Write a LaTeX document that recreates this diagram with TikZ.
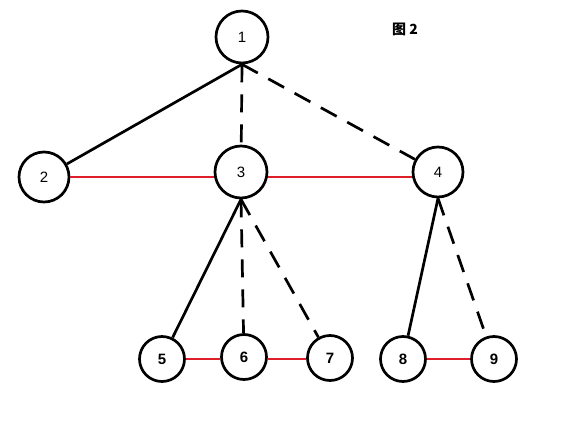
\documentclass[tikz,border=0pt]{standalone}
\usepackage{fontspec}
\setmainfont{Liberation Sans}
\newfontfamily\cjk{Noto Sans CJK SC}
\definecolor{linkred}{RGB}{222,30,40}
\begin{document}
\begin{tikzpicture}[x=1pt,y=-1pt,
    vertex/.style={draw,circle,line width=2.7pt,inner sep=0pt},
    big/.style={vertex,minimum size=52pt,font=\fontsize{15}{15}\selectfont},
    small/.style={vertex,minimum size=45pt,font=\bfseries\fontsize{15}{15}\selectfont},
    tree/.style={line width=2.7pt},
    lazy/.style={tree,dash pattern=on 18pt off 12pt},
    link/.style={line width=2.7pt,linkred}]
  \useasboundingbox (0,0) rectangle (586,428);
  \node[big] (n1) at (242,37) {1};
  \node[big,minimum size=50pt] (n2) at (44,177) {2};
  \node[big] (n3) at (241,172) {3};
  \node[big,minimum size=50pt] (n4) at (438,172) {4};
  \node[small] (n5) at (162,359) {5};
  \node[small] (n6) at (244,357) {6};
  \node[small] (n7) at (330,358) {7};
  \node[small] (n8) at (403,359) {8};
  \node[small] (n9) at (494,359) {9};
  \node (cap) at (405,29) {\cjk\bfseries\fontsize{14}{14}\selectfont 图 2};
  % tree edges
  \draw[tree] (n1.south) -- (n2);
  \draw[lazy] (n1.south) -- (n3);
  \draw[lazy] (n1.south) -- (n4);
  \draw[tree] (n3.south) -- (n5);
  \draw[lazy] (n3.south) -- (n6);
  \draw[lazy] (n3.south) -- (n7);
  \draw[tree] (n4.south) -- (n8);
  \draw[lazy] (n4.south) -- (n9);
  % sibling links
  \draw[link] (n2.east) -- (n2.east -| n3.west);
  \draw[link] (n2.east -| n3.east) -- (n2.east -| n4.west);
  \draw[link] (n5.east) -- (n5.east -| n6.west);
  \draw[link] (n5.east -| n6.east) -- (n5.east -| n7.west);
  \draw[link] (n8) -- (n9);
\end{tikzpicture}
\end{document}
